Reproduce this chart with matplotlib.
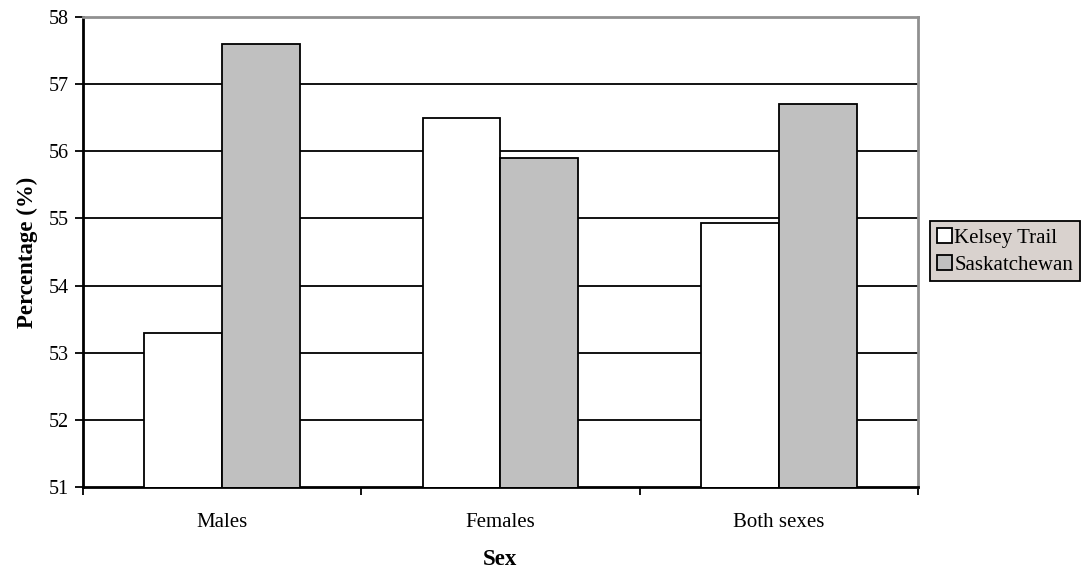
import numpy as np
import matplotlib.pyplot as plt

categories = ['Males', 'Females', 'Both sexes']
kelsey_trail = [53.3, 56.5, 54.93]
saskatchewan = [57.6, 55.9, 56.7]
series_names = ['Kelsey Trail', 'Saskatchewan']
y_ticks = [51, 52, 53, 54, 55, 56, 57, 58]

plt.rcParams['font.family'] = ['Liberation Serif', 'DejaVu Serif']

fig = plt.figure(figsize=(10.83, 5.78), dpi=100)
ax = fig.add_axes([0.0766, 0.1574, 0.7710, 0.8132])

x = np.arange(len(categories))
width = 0.28
ax.bar(x - width / 2, kelsey_trail, width, color='white', edgecolor='black',
       linewidth=1.3, label=series_names[0], zorder=3)
ax.bar(x + width / 2, saskatchewan, width, color='#c0c0c0', edgecolor='black',
       linewidth=1.3, label=series_names[1], zorder=3)

ax.set_xlim(-0.5, len(categories) - 0.5)
ax.set_ylim(51, 58)
ax.set_yticks(y_ticks)
ax.set_yticklabels([str(t) for t in y_ticks], fontsize=14.5)

# gridlines (the top one is the gray frame)
for t in y_ticks[1:-1]:
    ax.axhline(t, color='black', linewidth=1.3, zorder=1)

# category boundaries carry the ticks, labels sit in between
ax.set_xticks(np.arange(len(categories) + 1) - 0.5)
ax.set_xticklabels([])
ax.set_xticks(x, minor=True)
ax.set_xticklabels(categories, minor=True, fontsize=15)
ax.tick_params(axis='x', which='minor', length=0, pad=19)
ax.tick_params(axis='x', which='major', length=6, width=1.3, direction='out')
ax.tick_params(axis='y', length=6, width=1.3, direction='out', pad=4)

ax.spines['left'].set_linewidth(2)
ax.spines['bottom'].set_linewidth(2)
ax.spines['top'].set_color('#909090')
ax.spines['right'].set_color('#909090')
ax.spines['top'].set_linewidth(2)
ax.spines['right'].set_linewidth(2)

ax.set_ylabel('Percentage (%)', fontsize=16.5, fontweight='bold', labelpad=8)
ax.set_xlabel('Sex', fontsize=16.5, fontweight='bold', labelpad=12)

leg = ax.legend(loc='upper left', bbox_to_anchor=(1.015, 0.565), fontsize=15,
                frameon=True, fancybox=False, edgecolor='black',
                facecolor='#d9d2ce', framealpha=1, handlelength=0.75,
                handleheight=0.75, handletextpad=0.1, borderpad=0.3,
                labelspacing=0.35, borderaxespad=0)
leg.get_frame().set_linewidth(1.3)

fig.savefig('out.png', dpi=100)
